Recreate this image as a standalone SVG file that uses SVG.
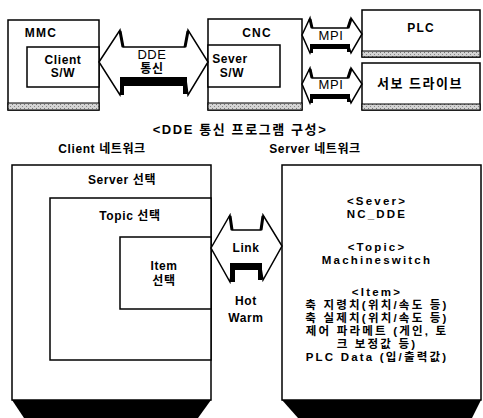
<svg xmlns="http://www.w3.org/2000/svg" width="483" height="418" viewBox="0 0 483 418">
<style>
  text { font-family: "Liberation Sans", "Noto Sans CJK KR", sans-serif; fill: #000; text-anchor: middle; }
  .t { font-size: 12px; font-weight: bold; letter-spacing: 1.2px; }
  .s { font-size: 12px; font-weight: bold; letter-spacing: 0.6px; }
  .n { font-size: 12px; font-weight: bold; letter-spacing: 0.6px; }
  .r { font-size: 11.5px; font-weight: bold; letter-spacing: 2.2px; }
  .box { fill: #fff; stroke: #000; stroke-width: 1.5; }
  .band { fill: url(#grain); stroke: #000; stroke-width: 1; }
  .arrow { fill: #fff; stroke: #000; stroke-width: 1.5; stroke-linejoin: miter; }
  .blk { fill: #000; }
  .edge { stroke: #000; stroke-width: 3; fill: none; }
</style>
<defs>
  <pattern id="grain" width="4" height="4" patternUnits="userSpaceOnUse">
    <rect width="4" height="4" fill="#d4d4d4"/>
    <rect x="0" y="0" width="1" height="1" fill="#777"/>
    <rect x="2" y="2" width="1" height="1" fill="#888"/>
  </pattern>
</defs>
<rect width="483" height="418" fill="#fff"/>

<g id="mmc">
  <rect class="box" x="8" y="20" width="91" height="90"/>
  <rect class="band" x="8" y="103" width="91" height="7"/>
  <text class="t" x="41" y="37">MMC</text>
  <rect class="box" x="27" y="47" width="72" height="40"/>
  <text class="s" x="63" y="64">Client</text>
  <text class="s" x="63" y="77">S/W</text>
</g>

<g id="cnc">
  <rect class="box" x="208" y="19" width="94" height="91"/>
  <rect class="band" x="208" y="103" width="94" height="7"/>
  <text class="t" x="257" y="37">CNC</text>
  <rect class="box" x="208" y="45" width="72" height="42"/>
  <text class="s" x="230" y="63">Sever</text>
  <text class="s" x="232" y="77">S/W</text>
</g>

<g id="plc">
  <rect class="box" x="362" y="10" width="118" height="47"/>
  <rect class="band" x="362" y="51" width="118" height="6"/>
  <text class="t" x="421" y="32">PLC</text>
</g>

<g id="servo">
  <rect class="box" x="362" y="63" width="118" height="47"/>
  <rect class="band" x="362" y="104" width="118" height="6"/>
  <text x="420" y="88" style="font-size:13px;font-weight:bold;letter-spacing:1.5px">서보 드라이브</text>
</g>

<text x="240" y="134" style="font-size:13px;font-weight:bold;letter-spacing:1.6px">&lt;DDE 통신 프로그램 구성&gt;</text>
<text class="n" x="102" y="153">Client 네트워크</text>
<text class="n" x="315" y="153">Server 네트워크</text>

<g id="client-network">
  <polygon class="blk" points="12,400 211,400 198,418 24,418"/>
  <rect class="box" x="12" y="165" width="199" height="235"/>
  <text class="n" x="122" y="184">Server 선택</text>
  <rect class="box" x="50" y="198" width="161" height="162"/>
  <text class="n" x="130" y="220">Topic 선택</text>
  <rect class="box" x="120" y="237" width="91" height="72"/>
  <text class="n" x="164" y="270">Item</text>
  <text class="n" x="164" y="285">선택</text>
</g>

<g id="server-network">
  <polygon class="blk" points="282,400 481,400 472,418 298,418"/>
  <rect class="box" x="282" y="165" width="199" height="235"/>
  <text class="r" x="377" y="205">&lt;Sever&gt;</text>
  <text class="r" x="377" y="218">NC_DDE</text>
  <text class="r" x="377" y="251">&lt;Topic&gt;</text>
  <text class="r" x="377" y="264">Machineswitch</text>
  <text class="r" x="377" y="296">&lt;Item&gt;</text>
  <text class="r" x="377" y="309">축 지령치(위치/속도 등)</text>
  <text class="r" x="377" y="322">축 실제치(위치/속도 등)</text>
  <text class="r" x="377" y="335">제어 파라메트 (게인, 토</text>
  <text class="r" x="377" y="348">크 보정값 등)</text>
  <text class="r" x="377" y="361">PLC Data (입/출력값)</text>
</g>

<g id="connectors">
  <g id="dde-arrow">
    <path class="arrow" d="M99,62 L120,30 L123,47 L185,47 L188,30 L208,62 L188,95 L186,80 L123,80 L120,95 Z"/>
    <path class="blk" d="M120,77 L187,77 L187,94 L183,94 L183,86 L124,86 L124,95 L120,95 Z"/>
    <path class="edge" d="M120,31 L123,47 M188,31 L185,47"/>
    <text class="n" x="152" y="59" style="font-weight:normal;font-size:13px">DDE</text>
    <text class="n" x="152" y="73">통신</text>
  </g>
  <g id="mpi-arrow-1">
    <path class="arrow" d="M302,35 L310,18 L312,28 L348,28 L351,18 L362,34 L351,53 L349,47 L312,47 L310,53 Z"/>
    <path class="blk" d="M310,44 L350,44 L350,52 L347,52 L347,49 L313,49 L313,53 L310,53 Z"/>
    <path class="edge" d="M310,19 L312,28 M351,19 L348,28"/>
    <text class="n" x="331" y="40" style="font-weight:normal;font-size:13px">MPI</text>
  </g>
  <g id="mpi-arrow-2">
    <path class="arrow" d="M302,84 L310,68 L312,78 L348,78 L351,68 L362,84 L351,103 L349,97 L312,97 L310,103 Z"/>
    <path class="blk" d="M310,94 L350,94 L350,102 L347,102 L347,99 L313,99 L313,103 L310,103 Z"/>
    <path class="edge" d="M310,69 L312,78 M351,69 L348,78"/>
    <text class="n" x="331" y="89" style="font-weight:normal;font-size:13px">MPI</text>
  </g>
  <g id="link-arrow">
    <path class="arrow" d="M211,248 L230,215 L232,230 L261,230 L263,215 L282,246 L263,280 L261,268 L232,268 L230,282 Z"/>
    <path class="blk" d="M230,263 L262,263 L262,280 L258,280 L258,270 L235,270 L235,282 L230,282 Z"/>
    <path class="edge" d="M230,216 L232,230 M263,216 L261,230"/>
    <text class="n" x="246" y="252">Link</text>
    <text class="n" x="246" y="305">Hot</text>
    <text class="n" x="246" y="322">Warm</text>
  </g>
</g>
</svg>
